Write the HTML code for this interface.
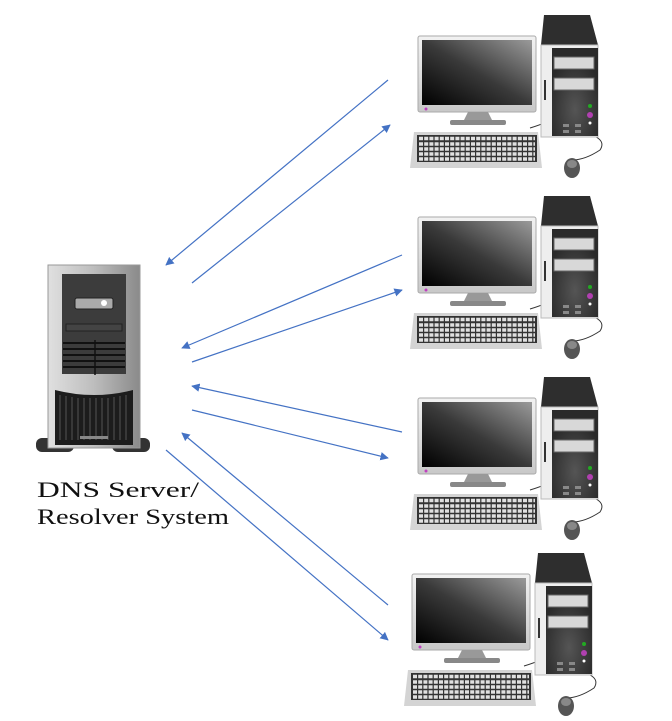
<!DOCTYPE html>
<html><head><style>
html,body{margin:0;padding:0;background:#fff;width:672px;height:721px;overflow:hidden}
</style></head><body>
<svg width="672" height="721" viewBox="0 0 672 721" xmlns="http://www.w3.org/2000/svg">
<defs>
<linearGradient id="scr" x1="0" y1="1" x2="1" y2="0">
<stop offset="0" stop-color="#000"/><stop offset="0.5" stop-color="#3a3a3a"/><stop offset="1" stop-color="#9a9a9a"/></linearGradient>
<linearGradient id="frm" x1="0" y1="0" x2="0" y2="1">
<stop offset="0" stop-color="#f2f2f2"/><stop offset="1" stop-color="#c8c8c8"/></linearGradient>
<linearGradient id="twr" x1="0" y1="0" x2="1" y2="0">
<stop offset="0" stop-color="#e0e0e0"/><stop offset="0.5" stop-color="#bdbdbd"/><stop offset="1" stop-color="#8a8a8a"/></linearGradient>
<radialGradient id="pan" cx="0.5" cy="0.7" r="0.6">
<stop offset="0" stop-color="#555"/><stop offset="1" stop-color="#2a2a2a"/></radialGradient>
<marker id="ar" viewBox="0 0 10 10" refX="9" refY="5" markerWidth="7" markerHeight="7" orient="auto">
<path d="M0,0 L10,5 L0,10 z" fill="#4472c4"/></marker>
<g id="pc">
<path d="M130,118 Q150,112 158,105 M168,120 Q210,125 200,140 Q185,150 172,150" fill="none" stroke="#333" stroke-width="1"/>
<rect x="18" y="26" width="118" height="76" rx="2" fill="url(#frm)" stroke="#aaa"/>
<rect x="22" y="30" width="110" height="65" fill="url(#scr)"/>
<circle cx="26" cy="99" r="1.5" fill="#c040c0"/>
<path d="M68,102 L88,102 L92,110 L64,110 z" fill="#999"/>
<rect x="50" y="110" width="56" height="5" rx="2" fill="#888"/>
<path d="M144,5 L190,5 L198,35 L141,35 z" fill="#2e2e2e"/>
<rect x="141" y="35" width="57" height="92" fill="#eee" stroke="#bbb"/>
<rect x="152" y="38" width="46" height="88" fill="url(#pan)"/>
<rect x="154" y="47" width="40" height="12" fill="#d8d8d8" stroke="#666"/>
<rect x="154" y="68" width="40" height="12" fill="#d8d8d8" stroke="#666"/>
<circle cx="190" cy="96" r="2" fill="#2a2"/>
<circle cx="190" cy="105" r="3" fill="#b040b0"/>
<circle cx="190" cy="113" r="1.5" fill="#fff"/>
<rect x="163" y="114" width="6" height="3" fill="#888"/><rect x="175" y="114" width="6" height="3" fill="#888"/>
<rect x="163" y="120" width="6" height="3" fill="#888"/><rect x="175" y="120" width="6" height="3" fill="#888"/>
<rect x="144" y="70" width="2" height="20" fill="#333"/>
<path d="M14,122 L138,122 L142,158 L10,158 z" fill="#d4d4d4"/>
<rect x="17" y="125" width="120" height="27" fill="#333"/>
<g stroke="#e0e0e0" stroke-width="3.5" stroke-dasharray="4 1.2">
<line x1="19" y1="128.5" x2="135" y2="128.5"/><line x1="19" y1="134" x2="135" y2="134"/>
<line x1="19" y1="139" x2="135" y2="139"/><line x1="19" y1="144" x2="135" y2="144"/><line x1="19" y1="149" x2="135" y2="149"/></g>
<ellipse cx="172" cy="158" rx="8" ry="10" fill="#555"/>
<ellipse cx="172" cy="154" rx="5" ry="4" fill="#888"/>
</g>
</defs>
<use href="#pc" x="400" y="10"/>
<use href="#pc" x="400" y="191"/>
<use href="#pc" x="400" y="372"/>
<use href="#pc" x="394" y="548"/>
<g>
<rect x="36" y="438" width="38" height="14" rx="6" fill="#333"/>
<rect x="112" y="438" width="38" height="14" rx="6" fill="#333"/>
<rect x="48" y="265" width="92" height="183" fill="url(#twr)" stroke="#999"/>
<rect x="62" y="274" width="64" height="100" fill="#3c3c3c"/>
<rect x="75" y="298" width="38" height="11" rx="2" fill="#aaa" stroke="#222"/>
<circle cx="104" cy="303" r="3" fill="#fff"/>
<rect x="66" y="324" width="56" height="7" fill="#444" stroke="#222"/>
<g stroke="#111" stroke-width="2"><line x1="63" y1="343" x2="125" y2="343"/><line x1="63" y1="349" x2="125" y2="349"/><line x1="63" y1="355" x2="125" y2="355"/><line x1="63" y1="361" x2="125" y2="361"/><line x1="63" y1="367" x2="125" y2="367"/></g>
<line x1="95" y1="340" x2="95" y2="375" stroke="#111" stroke-width="1.5"/>
<path d="M55,390 Q94,400 133,390 L133,445 L55,445 z" fill="#1c1c1c"/>
<g stroke="#555" stroke-width="1"><line x1="60" y1="395" x2="60" y2="440"/><line x1="66" y1="396" x2="66" y2="440"/><line x1="72" y1="397" x2="72" y2="440"/><line x1="78" y1="398" x2="78" y2="440"/><line x1="84" y1="398" x2="84" y2="440"/><line x1="90" y1="398" x2="90" y2="440"/><line x1="96" y1="398" x2="96" y2="440"/><line x1="102" y1="398" x2="102" y2="440"/><line x1="108" y1="398" x2="108" y2="440"/><line x1="114" y1="397" x2="114" y2="440"/><line x1="120" y1="396" x2="120" y2="440"/><line x1="126" y1="395" x2="126" y2="440"/></g>
<rect x="80" y="436" width="28" height="3" fill="#888"/>
</g>
<text x="37" y="497" font-family="Liberation Serif, serif" font-size="22" fill="#111" textLength="162" lengthAdjust="spacingAndGlyphs">DNS Server/</text>
<text x="37" y="524" font-family="Liberation Serif, serif" font-size="22" fill="#111" textLength="192" lengthAdjust="spacingAndGlyphs">Resolver System</text>
<g stroke="#4472c4" stroke-width="1.2" marker-end="url(#ar)">
<line x1="388" y1="80" x2="166" y2="265"/>
<line x1="192" y1="283" x2="390" y2="125"/>
<line x1="402" y1="255" x2="182" y2="348"/>
<line x1="192" y1="362" x2="402" y2="290"/>
<line x1="402" y1="432" x2="192" y2="386"/>
<line x1="192" y1="410" x2="388" y2="458"/>
<line x1="388" y1="605" x2="182" y2="433"/>
<line x1="166" y1="450" x2="388" y2="640"/>
</g>
</svg>
</body></html>
